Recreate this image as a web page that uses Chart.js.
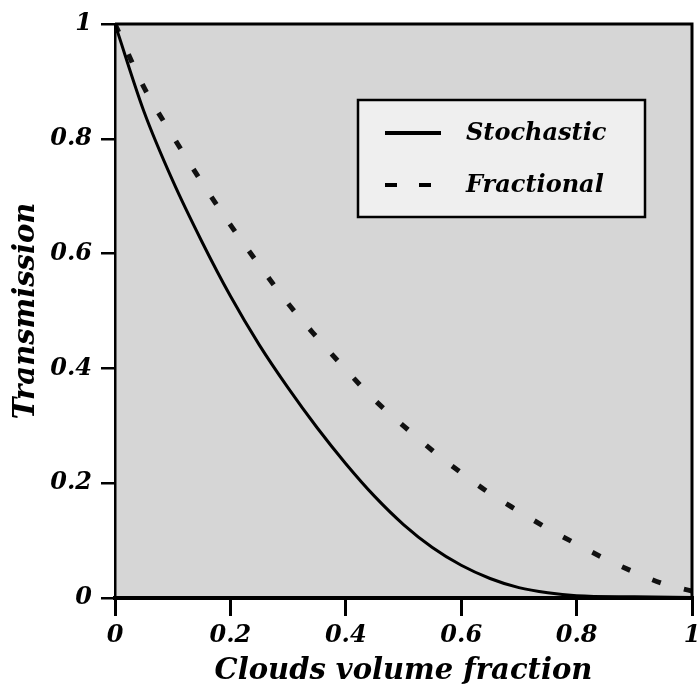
<!DOCTYPE html>
<html>
<head>
<meta charset="utf-8">
<script src="https://cdn.jsdelivr.net/npm/chart.js@4.4.1/dist/chart.umd.min.js"></script>
<style>
html,body{margin:0;padding:0;background:#fff;}
#wrap{width:698px;height:689px;position:relative;}
</style>
</head>
<body>
<div id="wrap"><canvas id="c" width="698" height="689"></canvas></div>
<script>
// values
const stochX=[0,0.05,0.1,0.15,0.2,0.25,0.3,0.35,0.4,0.45,0.5,0.55,0.6,0.65,0.7,0.75,0.8,0.9,1];
const stochY=[1,0.848,0.727,0.622,0.526,0.441,0.366,0.297,0.234,0.177,0.128,0.088,0.057,0.034,0.018,0.009,0.004,0.002,0.001];
const fracX=[0,0.05,0.1,0.15,0.2,0.25,0.3,0.35,0.4,0.45,0.5,0.55,0.6,0.65,0.7,0.75,0.8,0.85,0.9,0.95,1];
const fracY=[1,0.89,0.805,0.725,0.65,0.58,0.513,0.454,0.398,0.345,0.3,0.257,0.218,0.182,0.151,0.121,0.094,0.068,0.045,0.025,0.012];
const xTicks=[0,0.2,0.4,0.6,0.8,1];
const yTicks=[0,0.2,0.4,0.6,0.8,1];
const seriesNames=['Stochastic','Fractional'];

const FONT='"DejaVu Serif", "Liberation Serif", serif';
const pts=(xs,ys)=>xs.map((x,i)=>({x:x,y:ys[i]}));

const frame={
  id:'frame',
  beforeDraw(c){
    const {ctx,chartArea:a}=c;
    ctx.save();ctx.fillStyle='#d6d6d6';ctx.fillRect(a.left,a.top,a.right-a.left,a.bottom-a.top);ctx.restore();
  },
  afterDraw(c){
    const {ctx,chartArea:a}=c;
    ctx.save();
    ctx.strokeStyle='#000';ctx.lineWidth=3;
    ctx.beginPath();ctx.moveTo(a.left,a.top);ctx.lineTo(a.right,a.top);ctx.lineTo(a.right,a.bottom);ctx.stroke();
    ctx.lineWidth=4;ctx.beginPath();ctx.moveTo(a.left,a.bottom);ctx.lineTo(a.right,a.bottom);ctx.stroke();
    // legend box
    const bx=a.left+243,by=a.top+76,bw=287,bh=117;
    ctx.fillStyle='#efefef';ctx.fillRect(bx,by,bw,bh);
    ctx.lineWidth=2.5;ctx.strokeRect(bx,by,bw,bh);
    c.data.datasets.forEach((d,i)=>{
      const ly=by+33+i*52;
      ctx.strokeStyle='#000';ctx.lineWidth=4;
      ctx.setLineDash(d.borderDash&&d.borderDash.length?[12,22]:[]);
      ctx.beginPath();ctx.moveTo(bx+27,ly);ctx.lineTo(bx+83,ly);ctx.stroke();
      ctx.setLineDash([]);
      ctx.fillStyle='#000';ctx.font='italic bold 24px '+FONT;ctx.textBaseline='middle';
      ctx.fillText(d.label,bx+108,ly+1);
    });
    ctx.restore();
  }
};

new Chart(document.getElementById('c'),{
  type:'line',
  data:{datasets:[
    {label:seriesNames[0],data:pts(stochX,stochY),borderColor:'#000',borderWidth:3,pointRadius:0,fill:false,cubicInterpolationMode:'monotone'},
    {label:seriesNames[1],data:pts(fracX,fracY),borderColor:'#111',borderWidth:5,borderDash:[9,24],pointRadius:0,fill:false,cubicInterpolationMode:'monotone'}
  ]},
  options:{
    responsive:false,animation:false,
    layout:{padding:{left:0,right:6,top:24,bottom:0}},
    plugins:{legend:{display:false},tooltip:{enabled:false}},
    scales:{
      x:{type:'linear',min:0,max:1,
        afterBuildTicks:s=>{s.ticks=xTicks.map(v=>({value:v}));},
        afterFit:s=>{s.height=91;s.paddingLeft=0;s.paddingRight=0;},
        border:{display:true,color:'#000',width:4},
        grid:{drawOnChartArea:false,drawTicks:true,tickLength:18,color:'#000',lineWidth:3},
        ticks:{color:'#000',padding:5,maxRotation:0,font:{family:FONT,size:24,style:'italic',weight:'bold'},callback:v=>String(v)},
        title:{display:true,text:'Clouds volume fraction',color:'#000',padding:{top:0,bottom:0},font:{family:FONT,size:29,style:'italic',weight:'bold'}}
      },
      y:{type:'linear',min:0,max:1,
        afterBuildTicks:s=>{s.ticks=yTicks.map(v=>({value:v}));},
        afterFit:s=>{s.width=115;},
        border:{display:true,color:'#000',width:2.5},
        grid:{drawOnChartArea:false,drawTicks:true,tickLength:14,color:'#000',lineWidth:2.5},
        ticks:{color:'#000',padding:9,font:{family:FONT,size:24,style:'italic',weight:'bold'},callback:v=>String(v)},
        title:{display:true,text:'Transmission',color:'#000',padding:{top:9,bottom:0},font:{family:FONT,size:29,style:'italic',weight:'bold'}}
      }
    }
  },
  plugins:[frame]
});
</script>
</body>
</html>
